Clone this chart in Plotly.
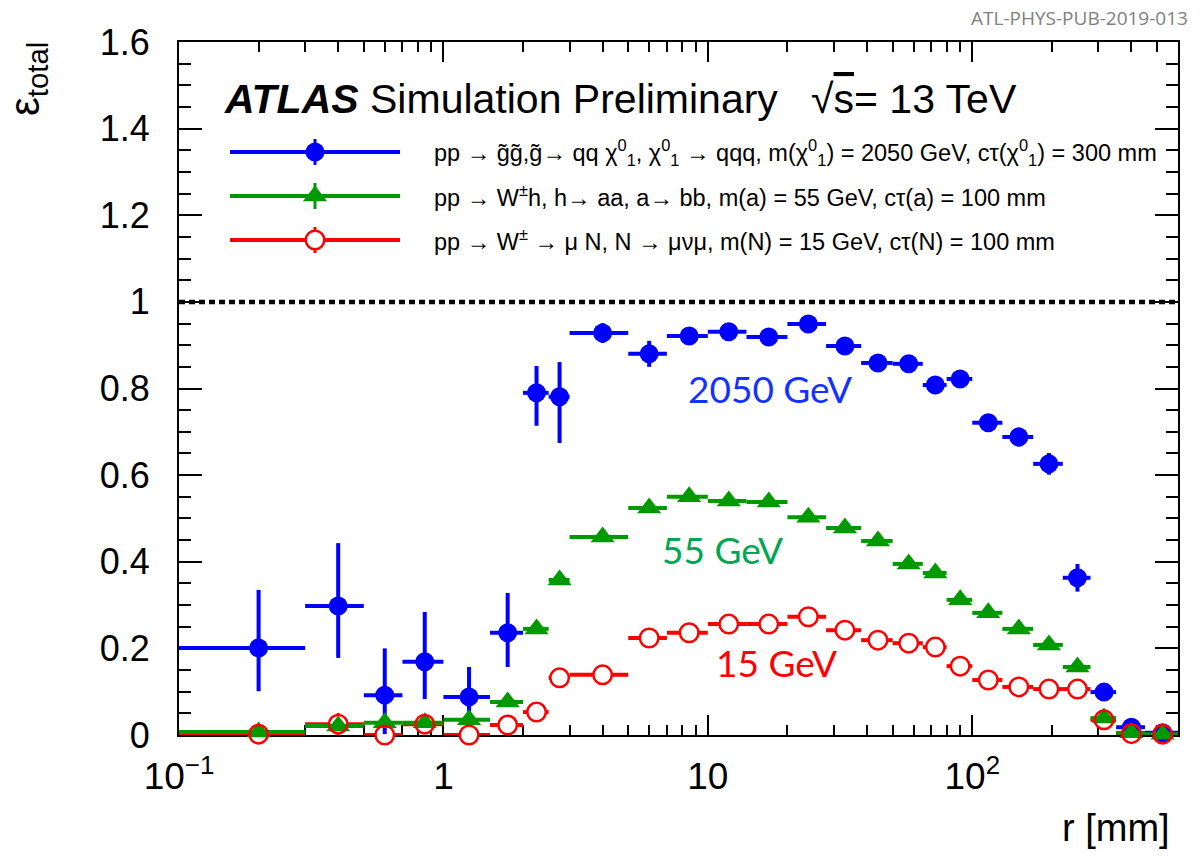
import numpy as np
import plotly.graph_objects as go

# ---------------- data ----------------
bin_edges = [0.1, 0.3, 0.5, 0.7, 1.0, 1.5, 2.0, 2.5, 3.0, 5.0, 7.0, 10, 14, 20, 28, 38,
             50, 65, 80, 100, 130, 170, 220, 280, 350, 450, 600]

eff_2050 = [0.201, 0.298, 0.092, 0.169, 0.088, 0.236, 0.790, 0.781, 0.928, 0.880, 0.921,
            0.931, 0.919, 0.949, 0.898, 0.859, 0.857, 0.808, 0.822, 0.721, 0.688, 0.626,
            0.363, 0.099, 0.018, 0.005]
err_up_2050 = [0.134, 0.145, 0.108, 0.115, 0.069, 0.092, 0.062, 0.080, 0.023, 0.030, 0.015,
               0.012, 0.012, 0.012, 0.014, 0.014, 0.015, 0.016, 0.015, 0.020, 0.022, 0.025,
               0.032, 0.015, 0.008, 0.004]
err_dn_2050 = [0.100, 0.120, 0.090, 0.086, 0.049, 0.079, 0.076, 0.107, 0.023, 0.030, 0.015,
               0.012, 0.012, 0.012, 0.014, 0.014, 0.015, 0.016, 0.015, 0.020, 0.022, 0.025,
               0.032, 0.015, 0.008, 0.004]

eff_55 = [0.007, 0.021, 0.028, 0.028, 0.035, 0.076, 0.245, 0.358, 0.457, 0.524, 0.550,
          0.540, 0.538, 0.503, 0.478, 0.448, 0.395, 0.374, 0.312, 0.282, 0.245, 0.208,
          0.157, 0.039, 0.005, 0.002]
err_55 = [0.015, 0.012, 0.010, 0.010, 0.010, 0.010, 0.010, 0.008, 0.006, 0.006, 0.006,
          0.006, 0.006, 0.006, 0.006, 0.006, 0.006, 0.006, 0.006, 0.006, 0.006, 0.006,
          0.006, 0.006, 0.004, 0.002]

eff_15 = [0.002, 0.025, 0.000, 0.025, 0.000, 0.023, 0.053, 0.132, 0.139, 0.224, 0.236,
          0.256, 0.256, 0.273, 0.242, 0.219, 0.212, 0.203, 0.159, 0.127, 0.111, 0.106,
          0.106, 0.035, 0.003, 0.002]
err_15 = [0.004, 0.026, 0.004, 0.015, 0.004, 0.012, 0.012, 0.016, 0.008, 0.008, 0.006,
          0.006, 0.006, 0.006, 0.006, 0.006, 0.006, 0.006, 0.006, 0.006, 0.006, 0.006,
          0.006, 0.008, 0.003, 0.002]

x_major = [0.1, 1, 10, 100]
x_major_text = ["10<sup>\u22121</sup>", "1", "10", "10<sup>2</sup>"]
x_minor = [m * d for d in [0.1, 1, 10, 100] for m in range(2, 10) if m * d < 600]
y_major = [0, 0.2, 0.4, 0.6, 0.8, 1.0, 1.2, 1.4, 1.6]
y_major_text = ["0", "0.2", "0.4", "0.6", "0.8", "1", "1.2", "1.4", "1.6"]
ref_level = 1.0

CHI = "\u03c7<sup>0</sup><sub>1</sub>"
legend_labels = [
    "pp \u2192 g\u0303g\u0303,g\u0303\u2192 qq " + CHI + ", " + CHI + " \u2192 qqq, m(" + CHI +
    ") = 2050 GeV, c\u03c4(" + CHI + ") = 300 mm",
    "pp \u2192 W<sup>\u00b1</sup>h, h\u2192 aa, a\u2192 bb, m(a) = 55 GeV, c\u03c4(a) = 100 mm",
    "pp \u2192 W<sup>\u00b1</sup> \u2192 \u03bc N, N \u2192 \u03bc\u03bd\u03bc, m(N) = 15 GeV, c\u03c4(N) = 100 mm",
]

# ---------------- geometry ----------------
W, H = 1204, 858
L, R, T, B = 179, 1178, 42, 735
PW, PH = R - L, B - T

def px(x):
    return (x - L) / PW

def py(y):
    return (B - y) / PH

BLUE = "#0000ff"
GREEN = "#009900"
RED = "#ff0000"
FONT = "Liberation Sans, Arial, sans-serif"

edges = np.array(bin_edges, dtype=float)
lo, hi = edges[:-1], edges[1:]
xc = 0.5 * (lo + hi)
ex_p = hi - xc
ex_m = xc - lo

fig = go.Figure()

def ebx(color):
    return dict(type="data", symmetric=False, array=ex_p, arrayminus=ex_m,
                width=0, thickness=4, color=color)

# red error bars (bottom layer)
fig.add_trace(go.Scatter(
    x=xc, y=eff_15, mode="markers", marker=dict(size=1, opacity=0),
    error_x=ebx(RED),
    error_y=dict(type="data", array=err_15, width=0, thickness=3, color=RED),
    cliponaxis=False, showlegend=False, hoverinfo="skip"))
# white interiors of red open markers
fig.add_trace(go.Scatter(
    x=xc, y=eff_15, mode="markers",
    marker=dict(symbol="circle", size=18, color="white", line=dict(width=0)),
    cliponaxis=False, showlegend=False, hoverinfo="skip"))
# 2050 GeV
fig.add_trace(go.Scatter(
    x=xc, y=eff_2050, mode="markers",
    marker=dict(symbol="circle", size=19, color=BLUE, line=dict(width=0)),
    error_x=ebx(BLUE),
    error_y=dict(type="data", symmetric=False, array=err_up_2050, arrayminus=err_dn_2050,
                 width=0, thickness=4, color=BLUE),
    cliponaxis=False, showlegend=False))
# 55 GeV
fig.add_trace(go.Scatter(
    x=xc, y=eff_55, mode="markers",
    marker=dict(symbol="triangle-up", size=21, color=GREEN, line=dict(width=0)),
    error_x=ebx(GREEN),
    error_y=dict(type="data", array=err_55, width=0, thickness=3, color=GREEN),
    cliponaxis=False, showlegend=False))
# 15 GeV open circles
fig.add_trace(go.Scatter(
    x=xc, y=eff_15, mode="markers",
    marker=dict(symbol="circle-open", size=18.5, color=RED, line=dict(width=2.5, color=RED)),
    cliponaxis=False, showlegend=False))

# legend samples on a pixel-space overlay axis
leg_rows = [152, 196, 240]
leg_styles = [
    dict(symbol="circle", size=19, color=BLUE, line=dict(width=0)),
    dict(symbol="triangle-up", size=21, color=GREEN, line=dict(width=0)),
    dict(symbol="circle", size=18.5, color="white", line=dict(width=2.5, color=RED)),
]
leg_colors = [BLUE, GREEN, RED]
for yy, st, col in zip(leg_rows, leg_styles, leg_colors):
    fig.add_trace(go.Scatter(
        x=[315], y=[yy], xaxis="x2", yaxis="y2", mode="markers", marker=st,
        error_x=dict(type="constant", value=85, width=0, thickness=4, color=col),
        error_y=dict(type="constant", value=13, width=0, thickness=3, color=col),
        cliponaxis=False, showlegend=False, hoverinfo="skip"))

# dashed reference line at efficiency = 1
fig.add_shape(type="line", xref="paper", x0=0, x1=1, yref="y", y0=ref_level, y1=ref_level,
              line=dict(color="black", width=4.5, dash="6px,4px"), layer="above")

fig.update_layout(
    width=W, height=H,
    margin=dict(l=L, r=W - R, t=T, b=H - B, pad=0),
    paper_bgcolor="white", plot_bgcolor="white",
    font=dict(family=FONT, color="black"),
    showlegend=False,
    xaxis=dict(
        type="log", range=[-1, np.log10(600)],
        tickmode="array", tickvals=x_major, ticktext=x_major_text,
        ticks="inside", ticklen=20, tickwidth=1.5, tickcolor="black",
        minor=dict(tickmode="array", tickvals=x_minor, ticks="inside", ticklen=10,
                   tickwidth=1.5, tickcolor="black", showgrid=False),
        showline=True, linecolor="black", linewidth=2, mirror="allticks",
        showgrid=False, zeroline=False, layer="below traces",
        tickfont=dict(size=37, family=FONT), ticklabelstandoff=8,
    ),
    yaxis=dict(
        range=[0, 1.6],
        tickmode="array", tickvals=y_major, ticktext=y_major_text,
        ticks="inside", ticklen=23, tickwidth=1.5, tickcolor="black",
        minor=dict(dtick=0.05, ticks="inside", ticklen=12, tickwidth=1.5,
                   tickcolor="black", showgrid=False),
        showline=True, linecolor="black", linewidth=2, mirror="allticks",
        showgrid=False, zeroline=False, layer="below traces",
        tickfont=dict(size=36, family=FONT), ticklabelstandoff=20,
    ),
    xaxis2=dict(overlaying="x", anchor="y2", range=[L, R], visible=False),
    yaxis2=dict(overlaying="y", anchor="x2", range=[B, T], visible=False),
)

ann = []
def add_text(x, y, text, size, color="black", xanchor="left", yanchor="middle",
             family=FONT, angle=0):
    ann.append(dict(x=px(x), y=py(y), xref="paper", yref="paper", text=text,
                    showarrow=False, xanchor=xanchor, yanchor=yanchor,
                    textangle=angle, font=dict(size=size, color=color, family=family)))

add_text(222, 99, "<b><i>ATLAS</i></b> Simulation Preliminary", 41)
add_text(809, 99, "\u221a<span style='text-decoration:overline'>s</span>= 13 TeV", 41)
for yy, lab in zip(leg_rows, legend_labels):
    add_text(432, yy, lab, 23.5)
add_text(686, 388, "2050 GeV", 37, color="#1432ff", family="Lato")
add_text(660, 549, "55 GeV", 37, color="#00a651", family="Lato")
add_text(714, 662, "15 GeV", 37, color="#ff0000", family="Lato")
add_text(1190, 18, "ATL-PHYS-PUB-2019-013", 19, color="#808080", xanchor="right",
         family="Open Sans")
add_text(1172, 828, "r [mm]", 38, xanchor="right")
add_text(28, 40, "\u03b5<sub>total</sub>", 42, xanchor="center", yanchor="top", angle=-90)
fig.update_layout(annotations=ann)

fig.write_html("out.html")
